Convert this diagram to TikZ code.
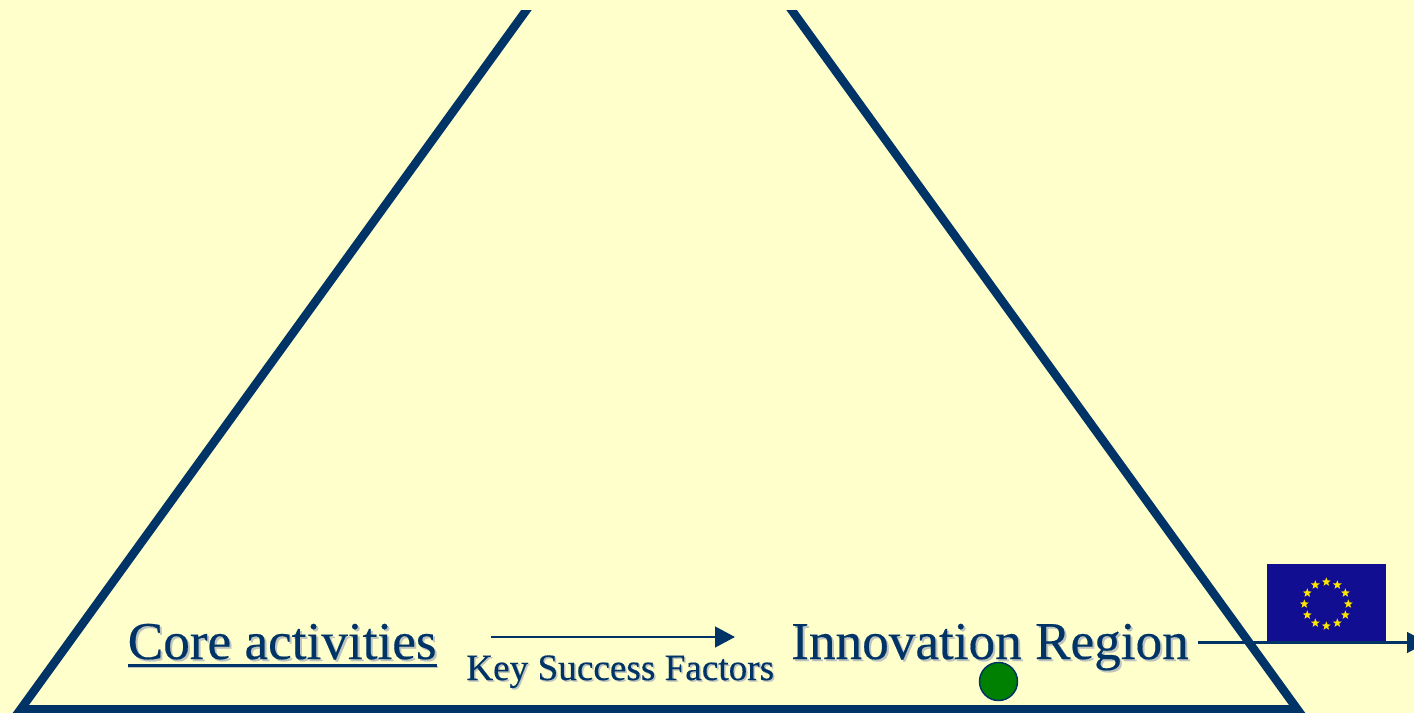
\documentclass[tikz,border=0pt]{standalone}
\usepackage{fontspec}
\setmainfont[FakeBold=0.3]{Liberation Serif}
\usetikzlibrary{arrows.meta,shapes.geometric,calc}
\definecolor{bgc}{HTML}{FFFFCC}
\definecolor{navyc}{HTML}{003366}
\definecolor{shadowc}{HTML}{BDC3BE}
\definecolor{flagc}{HTML}{120E92}
\definecolor{starc}{HTML}{FFE600}
\definecolor{greenc}{HTML}{008000}
\tikzset{
  big/.style={font=\fontsize{39.9pt}{44pt}\selectfont,inner sep=0pt,anchor=base west},
  small/.style={font=\fontsize{27.9pt}{32pt}\selectfont,inner sep=0pt,anchor=base west},
  ink/.style={text=navyc},
  shade/.style={text=shadowc},
  arrowline/.style={draw=navyc,line width=1.9pt,-{Triangle[length=15pt,width=15.5pt]}},
  tri/.style={draw=navyc,line width=6.4pt,miter limit=10},
  staritem/.style={star,star points=5,star point ratio=2.4,fill=starc,draw=none,minimum size=7pt,inner sep=0pt},
}
\begin{document}
\begin{tikzpicture}[x=0.75pt,y=-0.75pt]
\useasboundingbox (0,0) rectangle (1414,713);
\clip (0,0) rectangle (1414,713);
\fill[bgc] (0,0) rectangle (1414,713);
% pyramid, cut off at the top
\begin{scope}
\clip (0,10.5) rectangle (1414,713);
\draw[tri] (659,-173.3) -- (20.5,709.5) -- (1297.5,709.5) -- cycle;
\end{scope}
% exit connector, behind the flag
\coordinate (exitstart) at (1198,642.5);
\coordinate (exitend) at (1427,642.5);
\draw[arrowline] (exitstart) -- (exitend);
% flag
\node[fill=flagc,draw=none,minimum width=89.25pt,minimum height=58.5pt,inner sep=0pt,anchor=north west] (flag) at (1267,564) {};
\draw[navyc,line width=1.7pt] ([yshift=0.4pt]flag.south west) -- ([yshift=0.4pt]flag.south east);
\coordinate (flagstars) at (1326.3,604);
\foreach \i in {0,...,11}
  \node[staritem] (star\i) at ($(flagstars)+(\i*30+90:16.5pt)$) {};
% labels
\node[big,shade] (coreS) at (129.5,661) {Core activities};
\node[big,ink] (core) at (127.5,659) {Core activities};
\fill[shadowc] (128,666) rectangle (438,668);
\fill[navyc] (128,664) rectangle (437,667);
\node[small,shade] (kstS) at (467.5,681.5) {Key Success Factors};
\node[small,ink] (kst) at (466,680) {Key Success Factors};
\node[big,shade] (regS) at (793,661) {Innovation Region};
\node[big,ink] (reg) at (791,659) {Innovation Region};
% arrow
\coordinate (arrowstart) at (491,637);
\coordinate (arrowend) at (735,637);
\draw[arrowline] (arrowstart) -- (arrowend);
% dot
\node[circle,fill=greenc,draw=navyc,line width=1.1pt,minimum size=28.5pt,inner sep=0pt] (dot) at (998.5,681.5) {};
\end{tikzpicture}
\end{document}
